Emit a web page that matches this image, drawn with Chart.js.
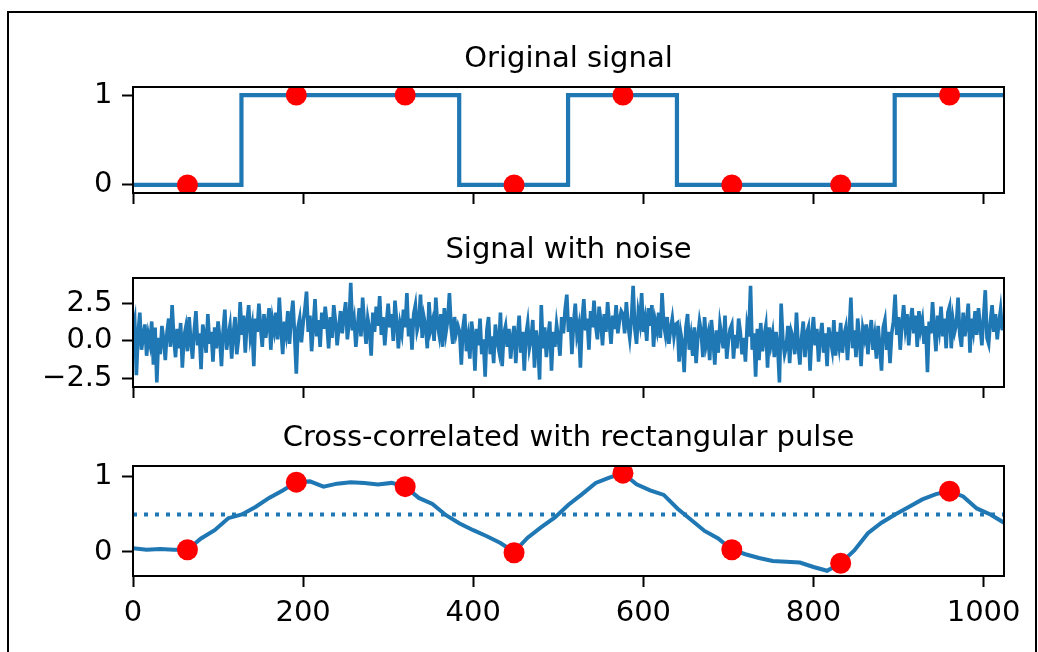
<!DOCTYPE html>
<html lang="en">
<head>
<meta charset="UTF-8" />
<title>Cross-correlation</title>
<script src="https://cdn.jsdelivr.net/npm/chart.js@4.4.0/dist/chart.umd.min.js"></script>
<style>
  body { margin: 0; background: #fff; width: 1038px; height: 652px; overflow: hidden; position: relative; }
  .frame { position: absolute; left: 7px; top: 11px; width: 1030px; height: 700px; border: 2px solid #000; box-sizing: border-box; }
  .panel { position: absolute; left: 0; width: 1038px; }
</style>
</head>
<body>
<div class="frame"></div>
<div class="panel" id="p1"><canvas id="c1"></canvas></div>
<div class="panel" id="p2"><canvas id="c2"></canvas></div>
<div class="panel" id="p3"><canvas id="c3"></canvas></div>

<script>
const xMax = 1024;
const xTicks = [0, 200, 400, 600, 800, 1000];

// original signal: level starts at each edge
const edgeX = [0, 127.5, 383.5, 511.5, 639.5, 895.5, 1024];
const edgeLevel = [0, 1, 0, 1, 0, 1, 1];

// sampling points (red dots)
const sampleX = [64, 192, 320, 448, 576, 704, 832, 960];
const sampleBits = [0, 1, 1, 0, 1, 0, 0, 1];
const corrAtSamples = [0.03, 0.93, 0.87, -0.01, 1.05, 0.03, -0.15, 0.81];

// noisy signal, read every 2 samples
const noiseStep = 2;
const noise = [
  0.8, 1.4, -2.3, 0.5, 1.9, -0.6, 0.3, 1.1, -1.0, 0.4, -0.2, 1.3, -1.6, 0.9, -2.8, 0.2,
  -0.9, 1.0, 0.1, -1.3, 0.6, 1.5, -0.4, 2.4, 0.2, -1.1, 0.8, -0.5, 1.2, -1.8, 0.3, 0.9,
  -0.7, 1.6, 0.0, -1.2, 0.7, 2.0, -0.3, 0.5, -1.9, 1.1, 0.4, -0.8, 1.8, -0.2, 0.6, -1.4,
  0.9, -0.5, 1.3, 0.2, -1.7, 0.7, 2.1, -0.6, 0.3, 1.0, -1.2, 0.5, 1.6, -0.9, 0.1, 2.6,
  0.4, 1.7, -0.8, 1.2, 2.4, 0.3, 1.0, -1.7, 1.5, 0.6, 2.5, 0.9, -0.4, 1.8, 0.2, 1.1,
  2.2, -0.6, 1.4, 0.7, 1.9, 0.1, 2.9, 0.8, -0.9, 1.3, 0.5, 2.0, -0.2, 1.6, 2.7, 0.4,
  -2.2, 0.9, 1.5, -0.1, 1.2, 2.1, 3.3, 0.6, 1.7, -0.7, 1.0, 2.8, 0.3, 1.4, -0.4, 1.9,
  0.8, 2.3, 1.1, -0.5, 1.6, 0.2, 2.4, 1.3, -0.3, 0.9, 2.0, 0.5, 1.7, 2.6, 0.1, 1.2,
  3.9, 0.7, 1.4, -0.4, 1.0, 2.2, 0.3, 2.9, 1.1, -0.2, 1.5, 0.8, -1.0, 1.9, 0.6, 2.3,
  1.0, 3.0, 0.4, 1.6, -0.3, 1.2, 2.5, 0.9, 1.8, 0.0, 2.7, 1.3, -0.5, 1.1, 0.5, 2.1,
  0.9, 3.2, 0.3, 1.5, -0.6, 1.8, 2.4, 0.7, 1.2, 3.1, 0.2, 1.6, 1.0, -0.5, 2.6, 0.8,
  1.3, 0.0, 2.9, 1.1, 0.4, 1.8, -0.4, 2.2, 0.6, 1.4, 3.2, 0.9, -0.2, 1.6, 0.5, 1.0,
  0.6, -1.6, 0.9, 1.8, -0.7, 0.2, -1.2, 1.3, 0.4, -2.0, 0.8, -0.3, 1.5, -0.9, 0.1, -2.4,
  0.7, 1.6, -0.9, 0.3, -1.5, 1.1, 0.0, -0.6, 1.9, -1.7, 0.5, 1.0, -0.4, 0.8, -1.2, 0.2,
  1.0, -1.5, 0.3, 1.7, -0.8, 0.6, -2.0, 0.4, 1.2, -0.5, 0.1, 1.4, -1.8, 0.7, -0.2, -2.6,
  2.4, -0.5, 0.9, -1.1, 0.3, 1.3, -2.0, 0.6, -0.4, 1.1, 0.2, -1.0, 1.6, 0.5, 2.1, 3.1,
  0.6, 1.6, -0.9, 1.2, 2.5, 0.4, 1.0, -1.8, 1.4, 2.8, 0.7, 1.5, -0.6, 2.0, 0.9, 2.7,
  1.0, 0.1, 2.3, 1.3, -0.3, 1.8, 0.6, 2.6, 1.2, -0.2, 1.7, 0.8, 2.4, 0.5, 1.4, 2.0,
  1.8, 0.5, 2.6, 1.1, 0.2, 1.5, 3.7, 0.8, -0.2, 1.9, 1.2, 3.2, 0.6, 1.4, 0.0, 2.2,
  1.0, 2.4, -0.4, 1.3, 0.7, 1.9, 0.2, 3.2, 1.1, 0.4, 1.6, -0.2, 0.8, 1.5, 0.3, 1.1,
  1.2, -1.4, 0.5, -0.2, -2.1, 0.9, 1.8, -0.6, 0.3, -1.0, 0.9, -1.5, 0.2, 1.3, 0.6, -1.1,
  1.6, -0.2, 0.4, -1.3, 1.4, 0.1, -1.6, 0.7, -0.8, 1.1, 0.3, -0.5, 1.7, -1.2, 0.0, 0.8,
  1.1, -1.2, 0.4, -0.5, 1.5, 0.6, -0.9, 0.2, -1.4, 1.0, 0.3, 3.7, -0.6, 0.5, -2.4, 0.8,
  -1.3, 1.2, -0.7, 0.3, 1.0, -1.8, 0.9, -0.2, 0.5, -1.1, 0.6, -0.4, -2.8, 2.5, 0.1, -0.9,
  -0.4, 1.0, -1.5, 0.6, 0.2, -0.9, 1.9, -0.3, -1.6, 0.2, 1.3, -1.1, 0.5, 0.9, -2.0, 0.4,
  1.6, -0.3, 0.8, -1.4, 0.3, 1.2, -0.8, 0.5, -1.7, 0.9, 0.1, -0.6, 1.4, -1.0, 0.6, -0.3,
  1.2, -0.8, 0.4, 0.9, -1.3, 0.6, 2.9, -0.5, 0.7, -1.1, 1.5, 0.2, -1.7, 0.8, 0.2, 1.1,
  -0.9, 0.5, 1.4, -0.6, 0.3, -1.2, 1.0, -0.4, -2.0, 0.9, 1.4, -0.6, 0.6, -1.5, 0.5, 1.3,
  3.1, 0.4, 1.6, -0.6, 1.1, 2.4, 0.9, 1.8, -0.3, 1.3, 2.2, 0.5, 1.7, -0.4, 2.0, 0.8,
  1.4, -0.2, 1.0, -2.1, 1.3, 0.5, 2.6, 0.9, -0.7, 1.7, 0.8, 2.3, 0.3, 1.5, -0.5, 1.9,
  2.3, -0.5, 1.4, 0.6, 1.1, 2.9, 0.4, -0.4, 1.9, 0.3, 1.2, 2.5, -0.8, 1.5, 0.7, 2.0,
  0.4, 2.2, 1.0, -0.3, 1.6, 3.4, 0.2, -0.2, 1.3, 2.4, 0.6, 1.8, 0.1, 1.2, 2.1, 0.7
];

// cross-correlation, read every 16 samples
const corrStep = 16;
const corr = [
  0.05, 0.03, 0.04, 0.03, 0.03, 0.18, 0.29, 0.45, 0.50, 0.60, 0.72, 0.82, 0.93, 0.94, 0.87, 0.91,
  0.93, 0.92, 0.90, 0.92, 0.87, 0.72, 0.64, 0.49, 0.38, 0.29, 0.21, 0.12, 0.00, 0.19, 0.33, 0.46,
  0.63, 0.77, 0.92, 0.99, 1.05, 0.90, 0.82, 0.76, 0.58, 0.43, 0.28, 0.18, 0.03, -0.03, -0.08, -0.12,
  -0.13, -0.14, -0.20, -0.25, -0.15, 0.02, 0.25, 0.39, 0.50, 0.60, 0.70, 0.77, 0.81, 0.74, 0.58, 0.50, 0.39
];
const threshold = 0.5;

const BLUE = '#1f77b4';
const RED = '#ff0000';
Chart.defaults.font.family = 'DejaVu Sans';
Chart.defaults.color = '#000';

// matplotlib-style full frame around the plot area
const boxPlugin = {
  id: 'box',
  afterDatasetsDraw(chart) {
    const a = chart.chartArea, ctx = chart.ctx;
    ctx.save();
    ctx.strokeStyle = '#000';
    ctx.lineWidth = 2;
    ctx.strokeRect(a.left, a.top, a.right - a.left, a.bottom - a.top);
    ctx.restore();
  }
};

const fmtMinus = s => s.replace('-', '\u2212');

function panel(n, title, chartTop, plotH, axisH, yMin, yMax, yTicks, fmt, datasets, xLabels) {
  const titleH = 60;
  const div = document.getElementById('p' + n);
  const h = titleH + plotH + axisH;
  div.style.top = (chartTop - titleH) + 'px';
  div.style.height = h + 'px';
  const cv = document.getElementById('c' + n);
  cv.width = 1038;
  cv.height = h;
  const tickGrid = { drawOnChartArea: false, drawTicks: true, tickLength: 11, tickWidth: 2, tickColor: '#000' };
  new Chart(cv, {
    type: 'scatter',
    data: { datasets },
    options: {
      responsive: false,
      animation: false,
      layout: { padding: { left: 0, right: 34, top: 0, bottom: 0 } },
      plugins: {
        legend: { display: false },
        tooltip: { enabled: false },
        title: {
          display: true, text: title, fullSize: false, color: '#000',
          font: { size: 29, weight: 'normal' }, padding: { top: 15.2, bottom: 10 }
        }
      },
      scales: {
        x: {
          type: 'linear', min: 0, max: xMax,
          afterBuildTicks: s => { s.ticks = xTicks.map(v => ({ value: v })); },
          afterFit: s => { s.height = axisH; },
          grid: tickGrid, border: { display: false },
          ticks: { font: { size: 29 }, color: '#000', padding: 8.6, maxRotation: 0, autoSkip: false,
                   callback: v => xLabels ? String(v) : '' }
        },
        y: {
          type: 'linear', min: yMin, max: yMax,
          afterBuildTicks: s => { s.ticks = yTicks.map(v => ({ value: v })); },
          afterFit: s => { s.width = 133; },
          grid: tickGrid, border: { display: false },
          ticks: { font: { size: 29 }, color: '#000', padding: 9.5, callback: fmt }
        }
      }
    },
    plugins: [boxPlugin]
  });
}

const dots = (ys) => ({
  data: sampleX.map((x, i) => ({ x, y: ys[i] })),
  showLine: false, pointRadius: 10.5, pointBackgroundColor: RED, pointBorderWidth: 0, clip: 0
});
const line = (pts, extra) => Object.assign({
  data: pts, showLine: true, borderColor: BLUE, borderWidth: 4.2, pointRadius: 0, clip: 0
}, extra || {});

panel(1, 'Original signal', 87, 106, 30, -0.09, 1.09, [0, 1], v => String(v), [
  dots(sampleBits),
  line(edgeX.map((x, i) => ({ x, y: edgeLevel[i] })), { stepped: true })
], false);

panel(2, 'Signal with noise', 278, 109, 30, -3.1, 4.22, [-2.5, 0, 2.5], v => fmtMinus(v.toFixed(1)), [
  line(noise.map((y, i) => ({ x: i * noiseStep, y })), { borderWidth: 3.6 })
], false);

panel(3, 'Cross-correlated with rectangular pulse', 466, 110, 60, -0.32, 1.145, [0, 1], v => String(v), [
  dots(corrAtSamples),
  line(corr.map((y, i) => ({ x: i * corrStep, y })), { borderWidth: 4 }),
  line([{ x: 0, y: threshold }, { x: xMax, y: threshold }], { borderWidth: 4, borderDash: [4, 7] })
], true);
</script>
</body>
</html>
